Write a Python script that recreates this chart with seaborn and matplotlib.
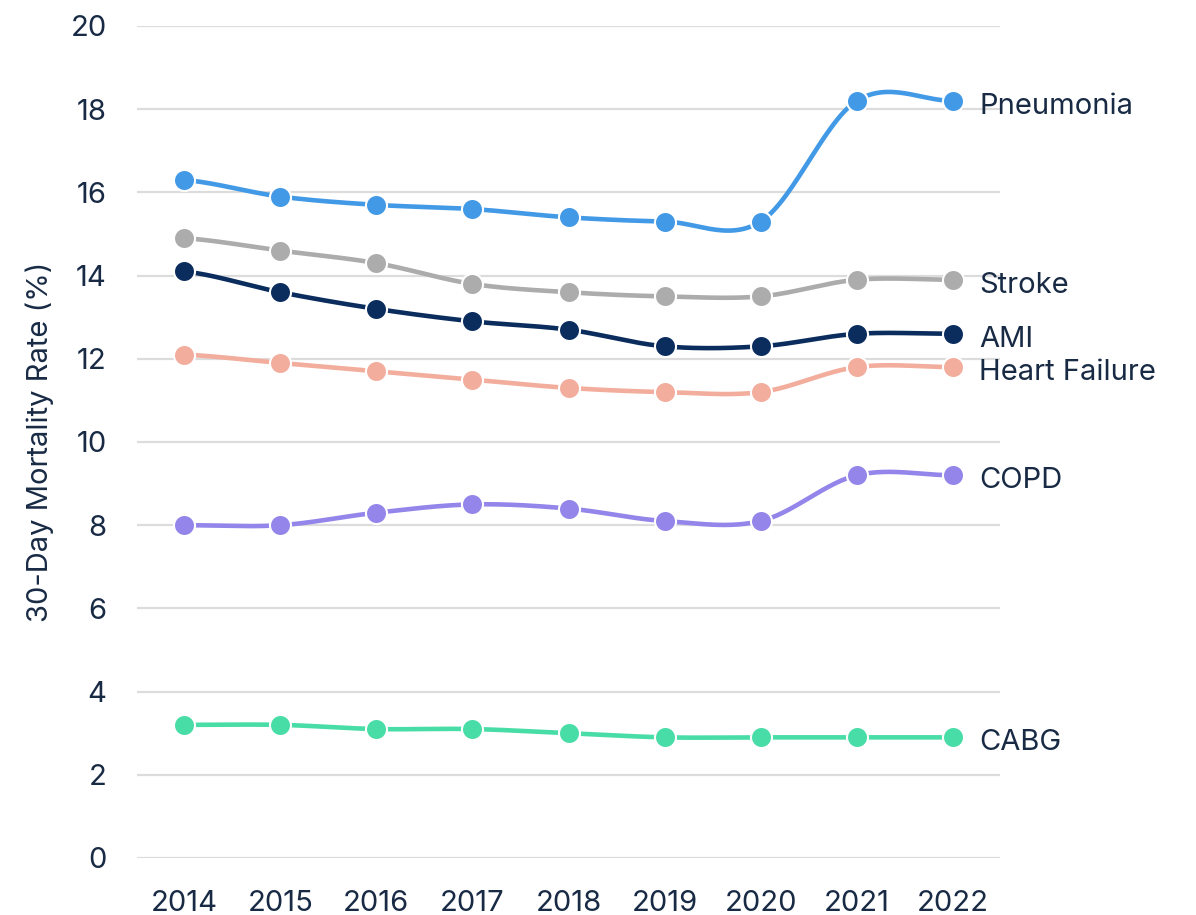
import numpy as np
import pandas as pd
import matplotlib
matplotlib.use("Agg")
import matplotlib.pyplot as plt
import seaborn as sns

years = [2014, 2015, 2016, 2017, 2018, 2019, 2020, 2021, 2022]
pneumonia = [16.3, 15.9, 15.7, 15.6, 15.4, 15.3, 15.3, 18.2, 18.2]
stroke = [14.9, 14.6, 14.3, 13.8, 13.6, 13.5, 13.5, 13.9, 13.9]
ami = [14.1, 13.6, 13.2, 12.9, 12.7, 12.3, 12.3, 12.6, 12.6]
heart_failure = [12.1, 11.9, 11.7, 11.5, 11.3, 11.2, 11.2, 11.8, 11.8]
copd = [8.0, 8.0, 8.3, 8.5, 8.4, 8.1, 8.1, 9.2, 9.2]
cabg = [3.2, 3.2, 3.1, 3.1, 3.0, 2.9, 2.9, 2.9, 2.9]

series = {
    "Pneumonia": pneumonia,
    "Stroke": stroke,
    "AMI": ami,
    "Heart Failure": heart_failure,
    "COPD": copd,
    "CABG": cabg,
}
colors = {
    "Pneumonia": "#4299e6",
    "Stroke": "#acacac",
    "AMI": "#0b2d5e",
    "Heart Failure": "#f3ad9d",
    "COPD": "#9385ea",
    "CABG": "#48dca6",
}
text_color = "#182a44"


def catmull_rom(x, y, steps=30):
    # smooth path through the points (drawing only)
    x = np.asarray(x, float)
    y = np.asarray(y, float)
    px = np.concatenate([[x[0]], x, [x[-1]]])
    py = np.concatenate([[y[0]], y, [y[-1]]])
    xs, ys = [], []
    for i in range(1, len(px) - 2):
        t = np.linspace(0, 1, steps, endpoint=False)
        m1 = (py[i + 1] - py[i - 1]) / 2
        m2 = (py[i + 2] - py[i]) / 2
        h00 = 2 * t**3 - 3 * t**2 + 1
        h10 = t**3 - 2 * t**2 + t
        h01 = -2 * t**3 + 3 * t**2
        h11 = t**3 - t**2
        ys.append(h00 * py[i] + h10 * m1 + h01 * py[i + 1] + h11 * m2)
        xs.append(px[i] + t * (px[i + 1] - px[i]))
    xs.append([x[-1]])
    ys.append([y[-1]])
    return np.concatenate(xs), np.concatenate(ys)


sns.set_style("white")
plt.rcParams["font.family"] = ["Inter", "DejaVu Sans"]

fig = plt.figure(figsize=(11.96, 9.15), dpi=100)
ax = fig.add_axes([0.1146, 0.0623, 0.7215, 0.9093])

for name, vals in series.items():
    sx, sy = catmull_rom(years, vals)
    sns.lineplot(x=sx, y=sy, ax=ax, color=colors[name], linewidth=3.3,
                 sort=False, estimator=None, zorder=3)
    sns.scatterplot(x=years, y=vals, ax=ax, color=colors[name], s=230,
                    edgecolor="white", linewidth=1.5, zorder=4)
    ax.annotate(name, xy=(years[-1], vals[-1]), xytext=(19, -4),
                textcoords="offset points", va="center", ha="left",
                fontsize=21, color=text_color, annotation_clip=False)

ax.set_xlim(2013.51, 2022.49)
ax.set_ylim(0, 20)
ax.set_yticks(range(0, 21, 2))
ax.set_xticks(years)
ax.grid(axis="y", color="#dcdcdc", linewidth=1.6)
ax.grid(axis="x", visible=False)
ax.set_axisbelow(True)
for s in ax.spines.values():
    s.set_visible(False)
ax.tick_params(axis="y", length=0, pad=22, labelsize=21, labelcolor=text_color)
ax.tick_params(axis="x", length=0, pad=23, labelsize=21, labelcolor=text_color)
ax.set_ylabel("30-Day Mortality Rate (%)", fontsize=21, color=text_color, labelpad=12)
ax.set_xlabel("")

fig.savefig("out.png", dpi=100)
